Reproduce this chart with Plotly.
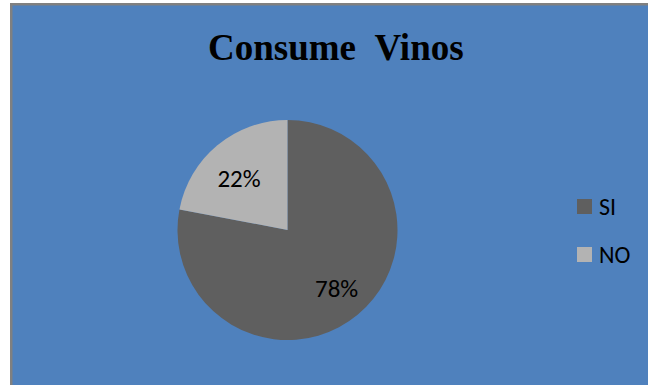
import plotly.graph_objects as go

categories = ["SI", "NO"]
values = [78, 22]
colors = ["#5F5F5F", "#B3B3B3"]
title_text = "Consume\u00a0\u00a0Vinos"

W, H = 648, 385
BLUE = "#4F81BD"
BORDER = "#808080"
NB = "\u00a0"

def px(x):
    return x / W

def py(y):
    return 1 - y / H

# label padding only nudges where the percent text sits inside each slice
label_templates = [
    " <br>" + NB * 5 + "%{percent}",
    "%{percent}" + NB * 2,
]

fig = go.Figure()
fig.add_trace(go.Pie(
    labels=categories,
    values=values,
    sort=False,
    direction="clockwise",
    rotation=0,
    marker=dict(colors=colors, line=dict(width=0)),
    texttemplate=label_templates,
    textposition="inside",
    insidetextorientation="horizontal",
    textfont=dict(family="Carlito, Calibri, Roboto, sans-serif", size=25, color="black"),
    hoverinfo="label+percent",
    domain=dict(x=[px(177.5), px(397.5)], y=[py(340), py(120)]),
    showlegend=False,
))

shapes = [
    dict(type="rect", xref="paper", yref="paper", x0=px(0), x1=px(10), y0=0, y1=1,
         fillcolor="white", line=dict(width=0), layer="below"),
    dict(type="rect", xref="paper", yref="paper", x0=0, x1=1, y0=py(3), y1=1,
         fillcolor="white", line=dict(width=0), layer="below"),
    dict(type="rect", xref="paper", yref="paper", x0=px(10), x1=px(12.5), y0=0, y1=py(3),
         fillcolor=BORDER, line=dict(width=0), layer="below"),
    dict(type="rect", xref="paper", yref="paper", x0=px(10), x1=1, y0=py(5.5), y1=py(3),
         fillcolor=BORDER, line=dict(width=0), layer="below"),
]

annotations = [
    dict(text="<b>" + title_text + "</b>", xref="paper", yref="paper",
         x=px(335.5), y=py(47), xanchor="center", yanchor="middle", showarrow=False,
         font=dict(family="Liberation Serif, Times New Roman, serif", size=37, color="black")),
]

leg_y = [206.5, 254.5]
for cat, col, ly in zip(categories, colors, leg_y):
    shapes.append(dict(type="rect", xref="paper", yref="paper",
                       x0=px(577), x1=px(592), y0=py(ly + 7.5), y1=py(ly - 7.5),
                       fillcolor=col, line=dict(width=0)))
    annotations.append(dict(text=cat, xref="paper", yref="paper", x=px(597), y=py(ly),
                            xanchor="left", yanchor="middle", showarrow=False,
                            font=dict(family="Carlito, Calibri, Roboto, sans-serif", size=24, color="black")))

fig.update_layout(
    width=W, height=H,
    margin=dict(l=0, r=0, t=0, b=0),
    paper_bgcolor=BLUE,
    plot_bgcolor=BLUE,
    shapes=shapes,
    annotations=annotations,
    showlegend=False,
)

fig.write_html(
    "out.html",
    config={"displayModeBar": False},
    post_script=(
        "document.body.style.margin='0';"
        "document.body.style.overflow='hidden';"
        "document.documentElement.style.overflow='hidden';"
    ),
)
